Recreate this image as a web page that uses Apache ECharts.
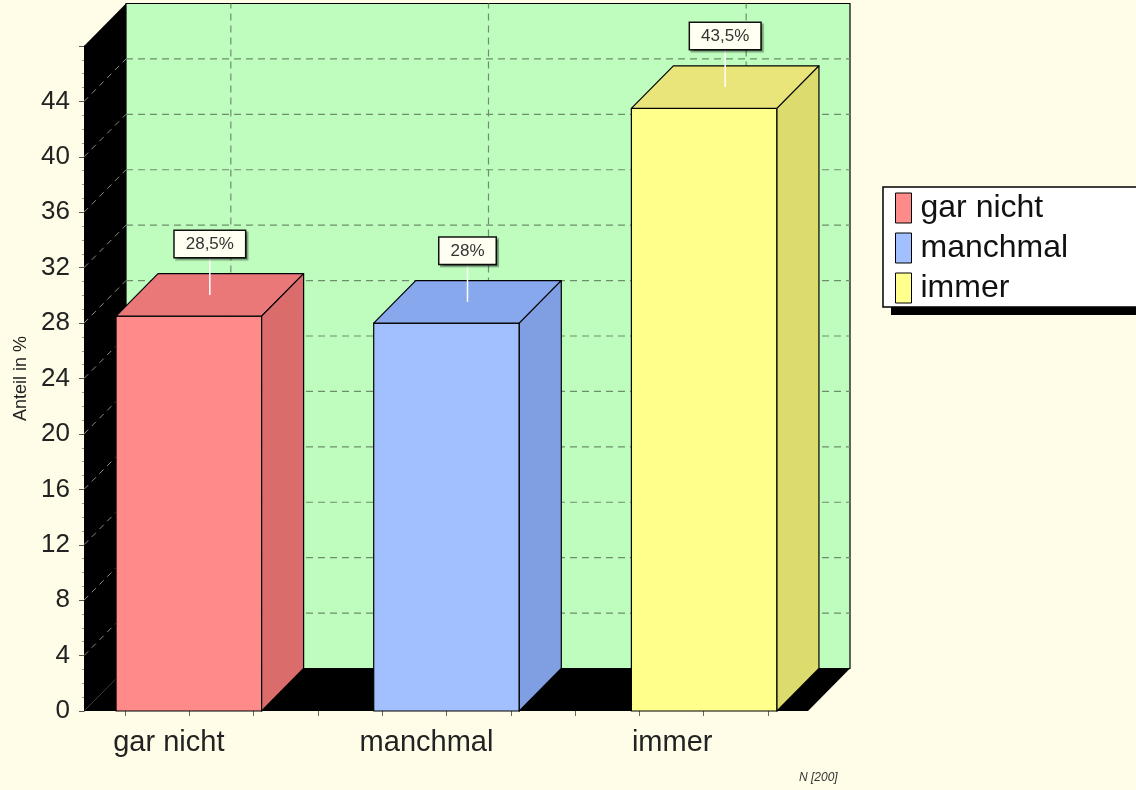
<!DOCTYPE html>
<html><head><meta charset="utf-8">
<script src="https://cdn.jsdelivr.net/npm/echarts@6/dist/echarts.min.js"></script>
<style>html,body{margin:0;padding:0;background:#FFFDE8;}#c{width:1136px;height:790px;}</style>
</head><body><div id="c"></div>
<script>
// ---- data ----
const categories = ['gar nicht', 'manchmal', 'immer'];
const values = [28.5, 28, 43.5];
const yMin = 0, yMax = 48, yStep = 4;
const sampleNote = 'N [200]';
const axisName = 'Anteil in %';
const frontColors = ['#FF8A8A', '#A2C0FF', '#FFFF8C'];
const topColors = ['#EA7878', '#88A8EE', '#E9E57A'];
const sideColors = ['#DB6C6C', '#7F9FE2', '#DCDC6E'];

// ---- drawing constants ----
const DX = 42, DY = 42.5;
const BAR_RATIO = 0.565;
const LABEL_RIGHT_PAD = [40, 40, 64];
const FONT = '"Liberation Sans", Arial, sans-serif';

const fmt = v => String(v).replace('.', ',') + '%';

const chart = echarts.init(document.getElementById('c'), null, {renderer: 'canvas'});

function frameItem(params, api) {
  const a = api.coord([0, yMin]);
  const b = api.coord([1, yMax]);
  const xL = a[0], yB = a[1], xR = b[0], yT = b[1];
  const ch = [];
  ch.push({type: 'rect', shape: {x: xL + DX, y: yT - DY, width: xR - xL, height: yB - yT},
    style: {fill: '#BEFDBE', stroke: '#000', lineWidth: 1.2}});
  for (let v = yMin + yStep; v < yMax; v += yStep) {
    const y = api.coord([0, v])[1];
    ch.push({type: 'line', shape: {x1: xL + DX, y1: y - DY, x2: xR + DX, y2: y - DY},
      style: {stroke: '#6E8E6E', lineWidth: 1.2, lineDash: [7, 5]}});
  }
  ch.push({type: 'polygon', shape: {points: [[xL, yB], [xL, yT], [xL + DX, yT - DY], [xL + DX, yB - DY]]},
    style: {fill: '#000'}});
  for (let v = yMin + yStep; v < yMax; v += yStep) {
    const y = api.coord([0, v])[1];
    ch.push({type: 'line', shape: {x1: xL, y1: y, x2: xL + DX, y2: y - DY},
      style: {stroke: '#8a8a8a', lineWidth: 1, lineDash: [6, 5]}});
  }
  ch.push({type: 'polygon', shape: {points: [[xL, yB], [xL + DX, yB - DY], [xR + DX, yB - DY], [xR, yB]]},
    style: {fill: '#000'}});
  return {type: 'group', children: ch};
}

function vGridItem(params, api) {
  const i = api.value(0);
  const b = api.coord([i, yMin]);
  const t = api.coord([i, yMax]);
  return {type: 'line', shape: {x1: b[0] + DX, y1: b[1] - DY, x2: b[0] + DX, y2: t[1] - DY},
    style: {stroke: '#6E8E6E', lineWidth: 1.2, lineDash: [7, 5]}};
}

function barItem(params, api) {
  const i = api.value(0), v = api.value(1);
  const base = api.coord([i, yMin]);
  const top = api.coord([i, v]);
  const bw = api.size([1, 0])[0] * BAR_RATIO;
  const xl = base[0] - bw / 2, xr = base[0] + bw / 2;
  const yb = base[1], yt = top[1];
  const cx = base[0] + DX / 2, cy = yt - DY / 2;
  const stroke = {stroke: '#000', lineWidth: 1.2, lineJoin: 'round'};
  return {type: 'group', children: [
    {type: 'rect', shape: {x: xl, y: yt, width: bw, height: yb - yt}, style: Object.assign({fill: frontColors[i]}, stroke)},
    {type: 'polygon', shape: {points: [[xl, yt], [xl + DX, yt - DY], [xr + DX, yt - DY], [xr, yt]]}, style: Object.assign({fill: topColors[i]}, stroke)},
    {type: 'polygon', shape: {points: [[xr, yt], [xr + DX, yt - DY], [xr + DX, yb - DY], [xr, yb]]}, style: Object.assign({fill: sideColors[i]}, stroke)},
    {type: 'line', shape: {x1: cx, y1: cy, x2: cx, y2: cy - 38}, style: {stroke: '#fff', lineWidth: 1.5}},
    {type: 'text', x: cx, y: cy - 38, style: {
      text: fmt(v), align: 'center', verticalAlign: 'bottom',
      font: '17px ' + FONT, fill: '#333',
      backgroundColor: '#FFFFF2', borderColor: '#111', borderWidth: 1.5,
      padding: [5, 11, 4, 11],
      shadowColor: 'rgba(0,0,0,0.35)', shadowOffsetX: 2, shadowOffsetY: 2, shadowBlur: 1
    }}
  ]};
}

const yTickLabels = [];
for (let v = yMin; v <= yMax; v += yStep) yTickLabels.push(v);

const barSeries = categories.map((c, i) => ({
  name: c, type: 'custom', xAxisIndex: 1, yAxisIndex: 1, z: 5,
  itemStyle: {color: frontColors[i]},
  renderItem: barItem, data: [[i, values[i]]], silent: true
}));

chart.setOption({
  backgroundColor: '#FFFDE8',
  animation: false,
  textStyle: {fontFamily: FONT},
  title: {text: sampleNote, left: 794, top: 767,
    textStyle: {fontSize: 12, fontStyle: 'italic', fontWeight: 'normal', color: '#333', fontFamily: FONT}},
  graphic: [{type: 'rect', z: 0, left: 891, top: 194, shape: {width: 260, height: 121}, style: {fill: '#000'}}],
  legend: {
    orient: 'vertical', left: 883, top: 187, z: 10,
    data: categories, selectedMode: false,
    icon: 'rect', itemWidth: 16, itemHeight: 30, itemGap: 8,
    itemStyle: {borderColor: '#000', borderWidth: 1},
    textStyle: {fontSize: 32, lineHeight: 30, color: '#111', fontFamily: FONT, padding: [0, 0, 0, 4]},
    backgroundColor: '#fff', borderColor: '#000', borderWidth: 1.5,
    padding: [5, 70, 3, 12]
  },
  grid: [
    {left: 84, right: 328, top: 46, bottom: 79},
    {left: 60, right: 303, top: 46, bottom: 79},
    {left: 125, right: 368, top: 46, bottom: 79}
  ],
  xAxis: [
    {gridIndex: 0, type: 'value', min: 0, max: 1, show: false},
    {gridIndex: 1, type: 'category',
      data: categories.map((c, i) => ({value: c, textStyle: {padding: [0, LABEL_RIGHT_PAD[i], 0, 0]}})),
      axisLine: {show: false}, axisTick: {show: false},
      axisLabel: {fontSize: 29, color: '#222', margin: 17, fontFamily: FONT}},
    {gridIndex: 2, type: 'value', min: 0, max: 10, interval: 1,
      axisLine: {show: false}, axisLabel: {show: false}, splitLine: {show: false},
      axisTick: {show: true, length: 5, lineStyle: {color: '#666'}}}
  ],
  yAxis: [
    {gridIndex: 0, type: 'value', min: yMin, max: yMax, interval: yStep,
      name: axisName, nameLocation: 'middle', nameRotate: 90, nameGap: 54,
      nameTextStyle: {fontSize: 18, color: '#222', fontFamily: FONT, padding: [0, 0, 0, 0]},
      axisLine: {show: true, lineStyle: {color: '#000'}},
      axisTick: {show: true, length: 5, lineStyle: {color: '#555'}},
      minorTick: {show: true, splitNumber: 4, length: 2, lineStyle: {color: '#999'}},
      splitLine: {show: false},
      axisLabel: {fontSize: 26, color: '#222', margin: 14, fontFamily: FONT,
        formatter: v => yTickLabels.indexOf(v) >= 0 && v < yMax ? String(v) : ''}},
    {gridIndex: 1, type: 'value', min: yMin, max: yMax, show: false},
    {gridIndex: 2, type: 'value', min: 0, max: 1, show: false}
  ],
  series: [
    {type: 'custom', xAxisIndex: 0, yAxisIndex: 0, z: 1, silent: true, renderItem: frameItem, data: [[0]]},
    {type: 'custom', xAxisIndex: 1, yAxisIndex: 1, z: 2, silent: true, renderItem: vGridItem,
      data: categories.map((c, i) => [i])}
  ].concat(barSeries)
});
</script>
</body></html>
